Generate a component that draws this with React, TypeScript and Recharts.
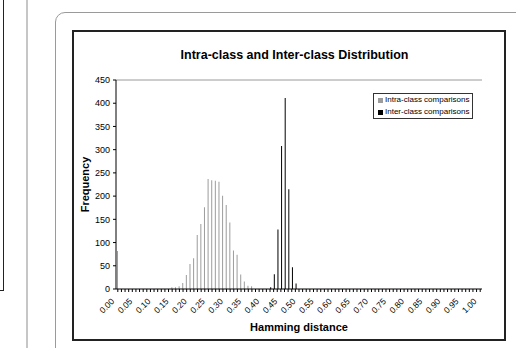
import { BarChart, Bar, XAxis, YAxis, Legend, ReferenceLine } from "recharts";

// ── Data ────────────────────────────────────────────────────────────────
// Hamming distance bins, 0.00 → 1.00 in steps of 0.01
const DISTANCES = [
  "0.00", "0.01", "0.02", "0.03", "0.04", "0.05", "0.06", "0.07", "0.08", "0.09",
  "0.10", "0.11", "0.12", "0.13", "0.14", "0.15", "0.16", "0.17", "0.18", "0.19",
  "0.20", "0.21", "0.22", "0.23", "0.24", "0.25", "0.26", "0.27", "0.28", "0.29",
  "0.30", "0.31", "0.32", "0.33", "0.34", "0.35", "0.36", "0.37", "0.38", "0.39",
  "0.40", "0.41", "0.42", "0.43", "0.44", "0.45", "0.46", "0.47", "0.48", "0.49",
  "0.50", "0.51", "0.52", "0.53", "0.54", "0.55", "0.56", "0.57", "0.58", "0.59",
  "0.60", "0.61", "0.62", "0.63", "0.64", "0.65", "0.66", "0.67", "0.68", "0.69",
  "0.70", "0.71", "0.72", "0.73", "0.74", "0.75", "0.76", "0.77", "0.78", "0.79",
  "0.80", "0.81", "0.82", "0.83", "0.84", "0.85", "0.86", "0.87", "0.88", "0.89",
  "0.90", "0.91", "0.92", "0.93", "0.94", "0.95", "0.96", "0.97", "0.98", "0.99",
  "1.00",
];

// only every fifth bin carries a printed label
const LABELLED = [
  "0.00", "0.05", "0.10", "0.15", "0.20", "0.25", "0.30", "0.35", "0.40", "0.45", "0.50",
  "0.55", "0.60", "0.65", "0.70", "0.75", "0.80", "0.85", "0.90", "0.95", "1.00",
];

const INTRA = [
  82, 0, 0, 0, 0, 0, 0, 0, 0, 0, // 0.00-0.09
  0, 0, 0, 0, 0, 4, 4, 6, 13, 30, // 0.10-0.19
  54, 66, 116, 140, 176, 237, 234, 233, 231, 201, // 0.20-0.29
  181, 143, 83, 74, 31, 16, 7, 6, 0, 0, // 0.30-0.39
  0, 0, 0, 0, 0, 0, 0, 0, 0, 0, // 0.40-0.49
  0, 0, 0, 0, 0, 0, 0, 0, 0, 0, // 0.50-0.59
  0, 0, 0, 0, 0, 0, 0, 0, 0, 0, // 0.60-0.69
  0, 0, 0, 0, 0, 0, 0, 0, 0, 0, // 0.70-0.79
  0, 0, 0, 0, 0, 0, 0, 0, 0, 0, // 0.80-0.89
  0, 0, 0, 0, 0, 0, 0, 0, 0, 0, // 0.90-0.99
  0, // 1.00
];

const INTER = [
  0, 0, 0, 0, 0, 0, 0, 0, 0, 0, // 0.00-0.09
  0, 0, 0, 0, 0, 0, 0, 0, 0, 0, // 0.10-0.19
  0, 0, 0, 0, 0, 0, 0, 0, 0, 0, // 0.20-0.29
  0, 0, 0, 0, 0, 0, 0, 0, 0, 0, // 0.30-0.39
  0, 0, 4, 32, 128, 308, 411, 215, 47, 12, // 0.40-0.49
  0, 0, 0, 0, 0, 0, 0, 0, 0, 0, // 0.50-0.59
  0, 0, 0, 0, 0, 0, 0, 0, 0, 0, // 0.60-0.69
  0, 0, 0, 0, 0, 0, 0, 0, 0, 0, // 0.70-0.79
  0, 0, 0, 0, 0, 0, 0, 0, 0, 0, // 0.80-0.89
  0, 0, 0, 0, 0, 0, 0, 0, 0, 0, // 0.90-0.99
  0, // 1.00
];

const FREQ_TICKS = [0, 50, 100, 150, 200, 250, 300, 350, 400, 450];
const SERIES_ORDER = ["intra", "inter"];

const data = DISTANCES.map((d, i) => ({ label: d, intra: INTRA[i], inter: INTER[i] }));

const FONT = '"Liberation Sans", Arial, sans-serif';

// ── Rotated category tick, printed on every 5th bin only ────────────────
// eslint-disable-next-line @typescript-eslint/no-explicit-any
function DistanceTick({ x, y, payload }: any) {
  if (!LABELLED.includes(payload.value)) return <g />;
  const tx = x - 3;
  const ty = y + 8;
  return (
    <text
      x={tx}
      y={ty}
      textAnchor="end"
      fontSize={8.5}
      fill="#000"
      transform={`rotate(-45, ${tx}, ${ty})`}
    >
      {payload.value}
    </text>
  );
}

// ── Boxed legend, Excel style ───────────────────────────────────────────
// eslint-disable-next-line @typescript-eslint/no-explicit-any
function LegendBox({ payload }: any) {
  const items = [...(payload ?? [])].sort(
    (a: { dataKey: string }, b: { dataKey: string }) =>
      SERIES_ORDER.indexOf(a.dataKey) - SERIES_ORDER.indexOf(b.dataKey),
  );
  return (
    <div
      style={{
        boxSizing: "border-box",
        width: 100,
        border: "1.5px solid #333",
        background: "#fff",
        padding: "0px 2px 0px 4px",
        fontSize: 8,
        lineHeight: "12px",
        color: "#000",
        fontFamily: FONT,
      }}
    >
      {items.map((p: { value: string; color: string }) => (
        <div key={p.value} style={{ display: "flex", alignItems: "center" }}>
          <span
            style={{
              display: "inline-block",
              width: 5,
              height: 5,
              background: p.color,
              marginRight: 2,
            }}
          />
          {p.value}
        </div>
      ))}
    </div>
  );
}

export default function App() {
  return (
    <div
      style={{
        position: "fixed",
        left: 0,
        top: 0,
        width: 516,
        height: 348,
        overflow: "hidden",
        background: "#fff",
        fontFamily: FONT,
      }}
    >
      {/* page furniture around the figure */}
      <div
        style={{
          position: "absolute",
          left: -10,
          top: -10,
          width: 14,
          height: 301,
          border: "1px solid #222",
          boxSizing: "border-box",
        }}
      />
      <div style={{ position: "absolute", left: 26, top: 0, width: 2, height: 348, background: "#c6c6c6" }} />
      <div
        style={{
          position: "absolute",
          left: 55,
          top: 12,
          width: 600,
          height: 600,
          border: "1px solid #9a9a9a",
          borderRadius: 10,
        }}
      />
      <div
        style={{
          position: "absolute",
          left: 72,
          top: 30,
          width: 434,
          height: 311,
          border: "2px solid #222",
          boxSizing: "border-box",
          background: "#fff",
        }}
      />

      <div
        style={{
          position: "absolute",
          left: 72,
          top: 48,
          width: 445,
          textAlign: "center",
          fontWeight: "bold",
          fontSize: 12.5,
          lineHeight: "15px",
          color: "#000",
        }}
      >
        Intra-class and Inter-class Distribution
      </div>

      <div style={{ position: "absolute", left: 72, top: 30 }}>
        <BarChart
          width={434}
          height={310}
          data={data}
          margin={{ top: 50, right: 24, left: 8, bottom: 6 }}
          barGap={0}
          barCategoryGap={0}
        >
          <XAxis
            dataKey="label"
            interval={0}
            height={45}
            tickSize={3}
            tickMargin={2}
            axisLine={{ stroke: "#000" }}
            tickLine={{ stroke: "#000" }}
            tick={<DistanceTick />}
            label={{
              value: "Hamming distance",
              position: "insideBottom",
              offset: 3,
              fontSize: 11,
              fontWeight: "bold",
              fill: "#000",
            }}
          />
          <YAxis
            width={36}
            domain={[0, 450]}
            ticks={FREQ_TICKS}
            tickSize={3}
            tickMargin={3}
            axisLine={{ stroke: "#000" }}
            tickLine={{ stroke: "#000" }}
            tick={{ fontSize: 9, fill: "#000" }}
            label={{
              value: "Frequency",
              angle: -90,
              position: "insideLeft",
              offset: 5,
              fontSize: 11,
              fontWeight: "bold",
              fill: "#000",
              style: { textAnchor: "middle" },
            }}
          />
          <YAxis
            yAxisId="right"
            orientation="right"
            width={0}
            domain={[0, 450]}
            tick={false}
            tickLine={false}
            axisLine={{ stroke: "#9a9a9a" }}
          />
          {/* plot-area frame along the top */}
          <ReferenceLine y={450} stroke="#9a9a9a" />
          <Legend
            layout="vertical"
            align="center"
            verticalAlign="middle"
            wrapperStyle={{ left: 301, top: 63, width: 100 }}
            content={<LegendBox />}
          />
          <Bar
            dataKey="intra"
            name="Intra-class comparisons"
            fill="#9c9c9c"
            barSize={1}
            isAnimationActive={false}
          />
          <Bar
            dataKey="inter"
            name="Inter-class comparisons"
            fill="#000"
            barSize={1}
            isAnimationActive={false}
          />
        </BarChart>
      </div>
    </div>
  );
}
